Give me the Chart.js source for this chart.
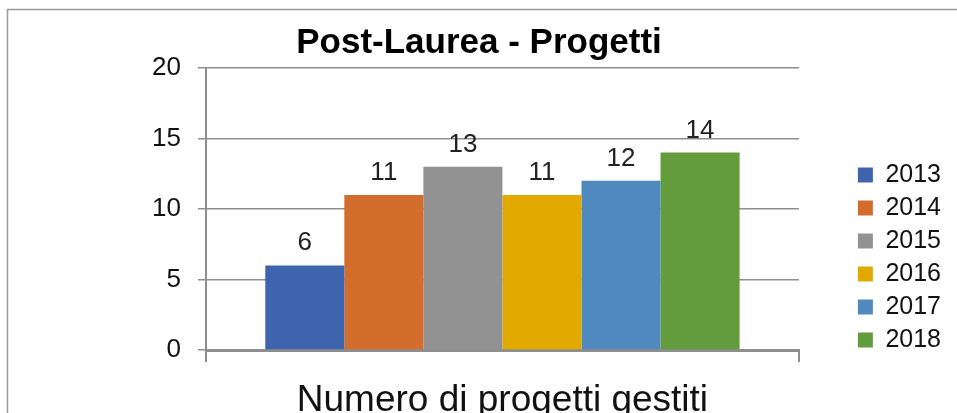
<!DOCTYPE html>
<html>
<head>
<meta charset="utf-8">
<script src="https://cdn.jsdelivr.net/npm/chart.js@4/dist/chart.umd.min.js"></script>
<style>
  html, body { margin: 0; padding: 0; background: #fff; }
  #wrap { width: 957px; height: 413px; position: relative; }
</style>
</head>
<body>
<div id="wrap"><canvas id="chart" width="957" height="413"></canvas></div>
<script>
// Chart data
const categories = ['Numero di progetti gestiti'];
const years = ['2013', '2014', '2015', '2016', '2017', '2018'];
const projects = [6, 11, 13, 11, 12, 14];
const yearColors = ['#3E64AD', '#D36D2B', '#929292', '#E2AA00', '#4F89BD', '#629C3D'];
const yTicks = [0, 5, 10, 15, 20];

const FONT = '"Liberation Sans", Arial, sans-serif';
const GRID = '#8e8e8e';

// Outer frame of the chart object
const framePlugin = {
    id: 'frame',
    beforeDraw(chart) {
        const c = chart.ctx;
        c.save();
        c.strokeStyle = '#9a9a9a';
        c.lineWidth = 1.5;
        c.beginPath();
        c.moveTo(7.5, chart.height);
        c.lineTo(7.5, 9.5);
        c.lineTo(chart.width, 9.5);
        c.stroke();
        c.restore();
    }
};

// Value labels above each bar
const valueLabels = {
    id: 'valueLabels',
    afterDatasetsDraw(chart) {
        const c = chart.ctx;
        c.save();
        c.font = '26px ' + FONT;
        c.fillStyle = '#222';
        c.textAlign = 'center';
        c.textBaseline = 'alphabetic';
        chart.data.datasets.forEach((ds, i) => {
            chart.getDatasetMeta(i).data.forEach((bar, j) => {
                c.fillText(ds.data[j], bar.x, bar.y - 15);
            });
        });
        c.restore();
    }
};

const datasets = years.map((y, i) => ({
    label: y,
    data: [projects[i]],
    backgroundColor: yearColors[i],
    borderWidth: 0,
    barPercentage: 1,
    categoryPercentage: 0.8
}));

new Chart(document.getElementById('chart'), {
    type: 'bar',
    data: { labels: categories, datasets: datasets },
    options: {
        responsive: false,
        animation: false,
        layout: { padding: { top: 10, right: 6, bottom: 0, left: 7 } },
        plugins: {
            title: {
                display: true,
                text: 'Post-Laurea - Progetti',
                color: '#000',
                font: { family: FONT, size: 35, weight: 'bold' },
                padding: { top: 12, bottom: 4 }
            },
            legend: {
                position: 'right',
                title: { display: true, text: ' ', font: { size: 10 }, padding: { top: 80, bottom: 0 } },
                labels: {
                    boxWidth: 15,
                    boxHeight: 15,
                    color: '#111',
                    font: { family: FONT, size: 25 },
                    padding: 8
                }
            },
            tooltip: { enabled: false }
        },
        scales: {
            x: {
                afterFit(scale) { scale.height = 63; },
                grid: { display: true, drawOnChartArea: false, offset: true, tickLength: 12, color: GRID, lineWidth: 2 },
                border: { color: GRID, width: 3 },
                ticks: { color: '#111', font: { family: FONT, size: 37 }, padding: 17 }
            },
            y: {
                min: 0,
                max: 20,
                afterFit(scale) { scale.width = 199; },
                afterBuildTicks(scale) { scale.ticks = yTicks.map(v => ({ value: v })); },
                grid: { color: GRID, lineWidth: 1.5, tickLength: 8 },
                border: { color: GRID, width: 2 },
                ticks: { color: '#111', font: { family: FONT, size: 26 }, padding: 17 }
            },
            // empty gap between the plot and the legend
            gap: {
                type: 'linear',
                position: 'right',
                afterFit(scale) { scale.width = 51; },
                grid: { display: false },
                border: { display: false },
                ticks: { display: false }
            }
        }
    },
    plugins: [framePlugin, valueLabels]
});
</script>
</body>
</html>
